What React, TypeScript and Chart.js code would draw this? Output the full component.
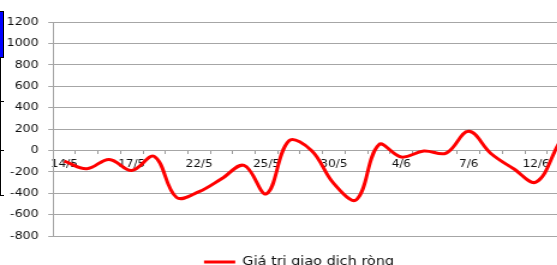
import React, { useEffect, useRef } from "react";
import { Chart, registerables } from "chart.js";

Chart.register(...registerables);

const categories = [
  "14/5", "15/5", "16/5", "17/5", "18/5", "21/5", "22/5", "23/5", "24/5", "25/5",
  "28/5", "29/5", "30/5", "31/5", "1/6", "4/6", "5/6", "6/6", "7/6", "8/6",
  "11/6", "12/6", "13/6",
];
const netValues = [
  -100, -171, -84, -187, -56, -440, -385, -265, -140, -405,
  90, 0, -311, -461, 53, -62, -6, -25, 178, -31,
  -171, -296, 60,
];
const seriesName = "Giá trị giao dịch ròng";
const yTicks = { min: -800, max: 1200, step: 200 };

// horizontal stretch of the whole picture (the reference is widened)
const SX = 1.2;
const CW = 498;
const CH = 278;

export default function App() {
  const ref = useRef<HTMLCanvasElement | null>(null);
  useEffect(() => {
    if (!ref.current) return;
    const font = { family: "'DejaVu Sans', Verdana, sans-serif" };
    const chart = new Chart(ref.current, {
      type: "line",
      data: {
        labels: categories,
        datasets: [
          {
            label: seriesName,
            data: netValues,
            borderColor: "#ff0000",
            backgroundColor: "#ff0000",
            borderWidth: 3,
            pointRadius: 0,
            tension: 0.38,
            yAxisID: "y",
          },
        ],
      },
      options: {
        animation: false,
        responsive: false,
        devicePixelRatio: 1,
        layout: { padding: { top: 22, left: 0, right: 0, bottom: 0 } },
        plugins: {
          tooltip: { enabled: false },
          legend: {
            position: "bottom",
            labels: {
              usePointStyle: true,
              pointStyle: "line",
              pointStyleWidth: 26,
              padding: 20,
              color: "#111",
              font: { ...font, size: 12 },
            },
          },
        },
        scales: {
          x: {
            type: "category",
            position: { y: 0 },
            offset: true,
            grid: {
              offset: true,
              drawOnChartArea: false,
              drawTicks: true,
              tickLength: 4,
              color: "#9a9a9a",
            },
            border: { display: false },
            ticks: {
              autoSkip: false,
              maxRotation: 0,
              minRotation: 0,
              padding: 4,
              color: "#111",
              font: { ...font, size: 10 },
              callback: (_v: any, i: number) => (i % 3 === 0 ? categories[i] : ""),
            },
            afterFit: (s: any) => {
              s.height = 0;
            },
          },
          y: {
            position: "left",
            min: yTicks.min,
            max: yTicks.max,
            grid: { color: "#a6a6a6", tickLength: 4, lineWidth: 1 },
            border: { color: "#a6a6a6" },
            ticks: {
              stepSize: yTicks.step,
              padding: 8,
              color: "#111",
              font: { ...font, size: 10.5 },
              callback: (v: any) => String(v),
            },
            afterFit: (s: any) => {
              s.width = 44.2;
            },
          },
          y2: {
            position: "right",
            display: true,
            grid: { display: false, drawTicks: false },
            border: { display: false },
            ticks: { display: false },
            afterFit: (s: any) => {
              s.width = 23.5;
            },
          },
        },
      },
    });
    return () => chart.destroy();
  }, []);

  const blk = "#000";
  return (
    <div
      style={{
        position: "fixed",
        left: 0,
        top: 0,
        width: 557,
        height: 265,
        overflow: "hidden",
        background: "#fff",
      }}
    >
      <canvas
        ref={ref}
        width={CW}
        height={CH}
        style={{ position: "absolute", left: 0, top: 0, width: CW * SX, height: CH }}
      />
      {/* left frame fragment */}
      <div style={{ position: "absolute", left: 0, top: 11, width: 3, height: 46, background: "#0000ff" }} />
      <div style={{ position: "absolute", left: 3, top: 11, width: 1, height: 46, background: blk }} />
      <div style={{ position: "absolute", left: 0, top: 11, width: 4, height: 1, background: blk }} />
      <div style={{ position: "absolute", left: 0, top: 57, width: 1, height: 138, background: blk }} />
      <div style={{ position: "absolute", left: 0, top: 57, width: 4, height: 1, background: blk }} />
      <div style={{ position: "absolute", left: 0, top: 101, width: 4, height: 1, background: blk }} />
      <div style={{ position: "absolute", left: 0, top: 150, width: 4, height: 1, background: blk }} />
      <div style={{ position: "absolute", left: 0, top: 195, width: 4, height: 1, background: blk }} />
    </div>
  );
}
